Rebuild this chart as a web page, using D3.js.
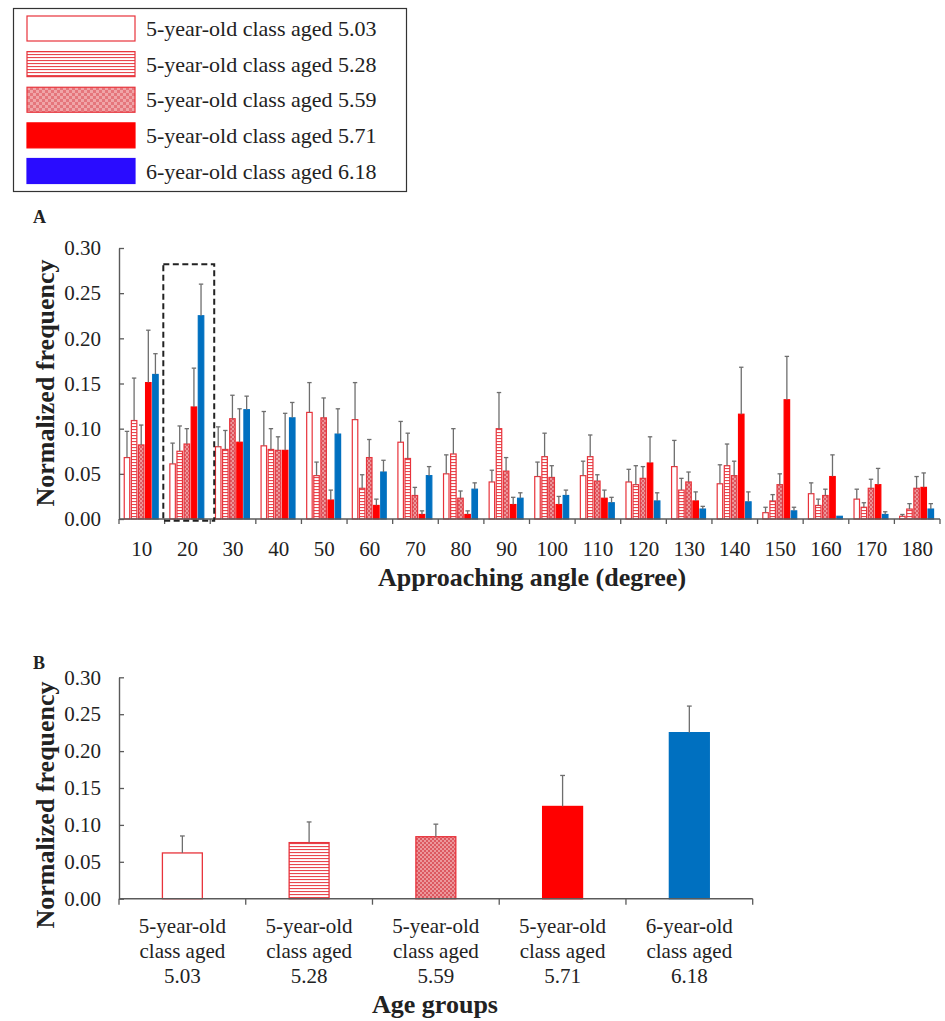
<!DOCTYPE html>
<html>
<head>
<meta charset="utf-8">
<script src="https://cdn.jsdelivr.net/npm/d3@7"></script>
<style>
  html, body { margin: 0; padding: 0; background: #fff; }
  svg { display: block; }
  text { font-family: "Liberation Serif", "Times New Roman", serif; fill: #222; }
</style>
</head>
<body>
<svg id="chart" width="945" height="1021"></svg>
<script>
// ---------- DATA ----------
const angles = ["10","20","30","40","50","60","70","80","90","100","110","120","130","140","150","160","170","180"];
const seriesNames = ["5-year-old class aged 5.03","5-year-old class aged 5.28","5-year-old class aged 5.59","5-year-old class aged 5.71","6-year-old class aged 6.18"];

const mean503 = [0.068,0.061,0.080,0.081,0.118,0.110,0.085,0.050,0.041,0.047,0.048,0.041,0.058,0.039,0.007,0.028,0.022,0.003];
const err503  = [0.029,0.023,0.022,0.038,0.033,0.041,0.023,0.021,0.013,0.016,0.016,0.014,0.029,0.021,0.006,0.012,0.011,0.002];
const mean528 = [0.109,0.075,0.077,0.077,0.048,0.034,0.067,0.072,0.100,0.069,0.069,0.038,0.032,0.059,0.020,0.015,0.013,0.011];
const err528  = [0.047,0.028,0.021,0.023,0.015,0.015,0.028,0.028,0.040,0.026,0.024,0.021,0.013,0.024,0.007,0.007,0.005,0.006];
const mean559 = [0.082,0.083,0.111,0.076,0.112,0.068,0.026,0.023,0.053,0.046,0.042,0.045,0.041,0.048,0.038,0.026,0.034,0.034];
const err559  = [0.022,0.017,0.026,0.015,0.022,0.020,0.009,0.008,0.015,0.013,0.007,0.013,0.011,0.016,0.012,0.007,0.010,0.013];
const mean571 = [0.151,0.124,0.085,0.076,0.021,0.015,0.005,0.005,0.016,0.016,0.023,0.062,0.020,0.116,0.132,0.047,0.038,0.035];
const err571  = [0.058,0.043,0.037,0.041,0.011,0.007,0.004,0.004,0.008,0.009,0.009,0.029,0.010,0.052,0.048,0.024,0.018,0.016];
const mean618 = [0.160,0.225,0.121,0.112,0.094,0.052,0.048,0.033,0.023,0.026,0.018,0.020,0.011,0.019,0.009,0.003,0.005,0.011];
const err618  = [0.023,0.035,0.015,0.017,0.028,0.013,0.010,0.007,0.006,0.006,0.006,0.009,0.003,0.011,0.004,0.000,0.003,0.006];

const groupLabels = [["5-year-old","class aged","5.03"],["5-year-old","class aged","5.28"],["5-year-old","class aged","5.59"],["5-year-old","class aged","5.71"],["6-year-old","class aged","6.18"]];
const groupMeans = [0.062,0.076,0.084,0.125,0.225];
const groupErrs  = [0.023,0.028,0.017,0.042,0.036];

const yTicks = [0,0.05,0.10,0.15,0.20,0.25,0.30];
const highlightAngle = "20";
const highlightTop = 0.282;

// ---------- STYLES ----------
const stroke = "#e8333b";
const fills = ["#ffffff","url(#stripes)","url(#dots)","#ff0000","#0070c0"];
const strokes = [stroke, stroke, stroke, "#ff0000", "#0070c0"];
const legendFills = ["#ffffff","url(#stripesL)","url(#dotsL)","#ff0000","#2a0cff"];
const legendStrokes = [stroke, stroke, stroke, "#ff0000", "#2a0cff"];
const axisColor = "#5a5a5a";
const errColor = "#6e6e6e";

const svg = d3.select("#chart");
const defs = svg.append("defs");

function stripePattern(id, gap) {
  const p = defs.append("pattern").attr("id", id).attr("patternUnits","userSpaceOnUse")
    .attr("width", 6).attr("height", gap);
  p.append("rect").attr("width",6).attr("height",gap).attr("fill","#fff");
  p.append("rect").attr("y",0).attr("width",6).attr("height",1.1).attr("fill","#e8474e");
}
stripePattern("stripes", 3);
stripePattern("stripesL", 3);

function dotPattern(id, s, base, light) {
  const p = defs.append("pattern").attr("id", id).attr("patternUnits","userSpaceOnUse")
    .attr("width", 2*s).attr("height", 2*s);
  p.append("rect").attr("width",2*s).attr("height",2*s).attr("fill",base);
  p.append("rect").attr("x",0).attr("y",0).attr("width",s).attr("height",s).attr("fill",light);
  p.append("rect").attr("x",s).attr("y",s).attr("width",s).attr("height",s).attr("fill",light);
}
dotPattern("dots", 2, "#dc5860", "#ec979b");
dotPattern("dotsL", 3, "#e5767c", "#f0a5a8");

// ---------- LEGEND ----------
const leg = svg.append("g");
leg.append("rect").attr("x",13.5).attr("y",8.5).attr("width",393).attr("height",183)
  .attr("fill","#fff").attr("stroke","#333").attr("stroke-width",1.2);
const legY = d3.scalePoint().domain(seriesNames).range([28.5, 171]);
seriesNames.forEach((name, i) => {
  const cy = legY(name);
  leg.append("rect").attr("x",27).attr("y",cy-12.5).attr("width",108).attr("height",25)
    .attr("fill",legendFills[i]).attr("stroke",legendStrokes[i]).attr("stroke-width",1.2);
  leg.append("text").attr("x",146).attr("y",cy+7.5).attr("font-size",22).text(name);
});

// ---------- PANEL A ----------
const series = [
  {m: mean503, e: err503},
  {m: mean528, e: err528},
  {m: mean559, e: err559},
  {m: mean571, e: err571},
  {m: mean618, e: err618}
];
const xA = d3.scaleBand().domain(angles).range([119, 940]).padding(0);
const yA = d3.scaleLinear().domain([0, 0.30]).range([519, 248]);
const bw = xA.bandwidth();
const inner = d3.scaleBand().domain(d3.range(5)).range([0, bw*0.77]).paddingInner(0.06);
const offset = (bw - bw*0.77)/2 - 0.6;

const gA = svg.append("g");
svg.append("text").attr("x",33).attr("y",223).attr("font-size",18).attr("font-weight","bold").text("A");

// y axis
const yAxisA = d3.axisLeft(yA).tickValues(yTicks).tickFormat(d3.format(".2f")).tickSizeInner(-5).tickSizeOuter(0).tickPadding(18);
const yg = gA.append("g").attr("transform","translate(119,0)").call(yAxisA);
styleAxis(yg);

// bars
series.forEach((s, si) => {
  const g = gA.append("g");
  angles.forEach((a, ai) => {
    const x = xA(a) + offset + inner(si);
    const w = inner.bandwidth();
    const v = s.m[ai], e = s.e[ai];
    g.append("rect").attr("x", x+0.6).attr("y", yA(v)).attr("width", w-1.2).attr("height", yA(0)-yA(v))
      .attr("fill", fills[si]).attr("stroke", strokes[si]).attr("stroke-width", 1.2);
    if (e > 0) {
      const cx = x + w/2;
      g.append("line").attr("x1",cx).attr("x2",cx).attr("y1",yA(v)).attr("y2",yA(v+e))
        .attr("stroke",errColor).attr("stroke-width",1.3);
      g.append("line").attr("x1",cx-2.2).attr("x2",cx+2.2).attr("y1",yA(v+e)).attr("y2",yA(v+e))
        .attr("stroke",errColor).attr("stroke-width",1.3);
    }
  });
});

// x axis A
const xgA = gA.append("g").attr("transform",`translate(0,${yA(0)})`);
xgA.append("line").attr("x1",119).attr("x2",940).attr("stroke",axisColor).attr("stroke-width",1.4);
const bounds = angles.map(a => xA(a)).concat([xA(angles[angles.length-1]) + bw]);
xgA.selectAll(".tk").data(bounds).join("line").attr("x1",d=>d).attr("x2",d=>d).attr("y1",0).attr("y2",5)
  .attr("stroke",axisColor).attr("stroke-width",1.3);
xgA.selectAll(".lb").data(angles).join("text").attr("x",d=>xA(d)+bw/2).attr("y",37)
  .attr("text-anchor","middle").attr("font-size",21).text(d=>d);

// dashed highlight
gA.append("rect").attr("x", xA(highlightAngle)-1.3).attr("y", yA(highlightTop))
  .attr("width", bw+5.3).attr("height", yA(0) - yA(highlightTop) + 1.8)
  .attr("fill","none").attr("stroke","#222").attr("stroke-width",2).attr("stroke-dasharray","6,3.5");

svg.append("text").attr("x",532).attr("y",586).attr("text-anchor","middle").attr("font-size",26)
  .attr("font-weight","bold").text("Approaching angle (degree)");
svg.append("text").attr("transform","translate(54,383) rotate(-90)").attr("text-anchor","middle")
  .attr("font-size",26).attr("font-weight","bold").text("Normalized frequency");

// ---------- PANEL B ----------
svg.append("text").attr("x",33).attr("y",669).attr("font-size",18).attr("font-weight","bold").text("B");
const groupKeys = groupLabels.map(d => d.join(" "));
const xB = d3.scaleBand().domain(groupKeys).range([119, 752.7]).padding(0);
const yB = d3.scaleLinear().domain([0, 0.30]).range([898.7, 677.3]);
const bwB = xB.bandwidth();
const barW = bwB * 0.315;
const gB = svg.append("g");
const ygB = gB.append("g").attr("transform","translate(119,0)")
  .call(d3.axisLeft(yB).tickValues(yTicks).tickFormat(d3.format(".2f")).tickSizeInner(-5).tickSizeOuter(0).tickPadding(18));
styleAxis(ygB);

groupKeys.forEach((k, i) => {
  const cx = xB(k) + bwB/2;
  const v = groupMeans[i], e = groupErrs[i];
  gB.append("rect").attr("x", cx - barW/2).attr("y", yB(v)).attr("width", barW).attr("height", yB(0)-yB(v))
    .attr("fill", fills[i]).attr("stroke", strokes[i]).attr("stroke-width", 1.3);
  gB.append("line").attr("x1",cx).attr("x2",cx).attr("y1",yB(v)).attr("y2",yB(v+e))
    .attr("stroke",errColor).attr("stroke-width",1.3);
  gB.append("line").attr("x1",cx-2.4).attr("x2",cx+2.4).attr("y1",yB(v+e)).attr("y2",yB(v+e))
    .attr("stroke",errColor).attr("stroke-width",1.3);
});
const xgB = gB.append("g").attr("transform",`translate(0,${yB(0)})`);
xgB.append("line").attr("x1",119).attr("x2",752.7).attr("stroke",axisColor).attr("stroke-width",1.4);
const boundsB = groupKeys.map(k => xB(k)).concat([752.7]);
xgB.selectAll(".tk").data(boundsB).join("line").attr("x1",d=>d).attr("x2",d=>d).attr("y1",0).attr("y2",6)
  .attr("stroke",axisColor).attr("stroke-width",1.3);
groupLabels.forEach((lines, i) => {
  const cx = xB(groupKeys[i]) + bwB/2;
  lines.forEach((t, j) => {
    xgB.append("text").attr("x",cx).attr("y",34 + j*25).attr("text-anchor","middle").attr("font-size",21).text(t);
  });
});
svg.append("text").attr("x",435).attr("y",1013).attr("text-anchor","middle").attr("font-size",26)
  .attr("font-weight","bold").text("Age groups");
svg.append("text").attr("transform","translate(54,805) rotate(-90)").attr("text-anchor","middle")
  .attr("font-size",26).attr("font-weight","bold").text("Normalized frequency");

function styleAxis(g) {
  g.attr("font-family", null);
  g.select(".domain").attr("stroke", axisColor).attr("stroke-width",1.4);
  g.selectAll(".tick line").attr("stroke", axisColor).attr("stroke-width",1.3);
  g.selectAll(".tick text").attr("font-size",21).attr("fill","#222")
    .attr("font-family","'Liberation Serif', 'Times New Roman', serif");
}
</script>
</body>
</html>
